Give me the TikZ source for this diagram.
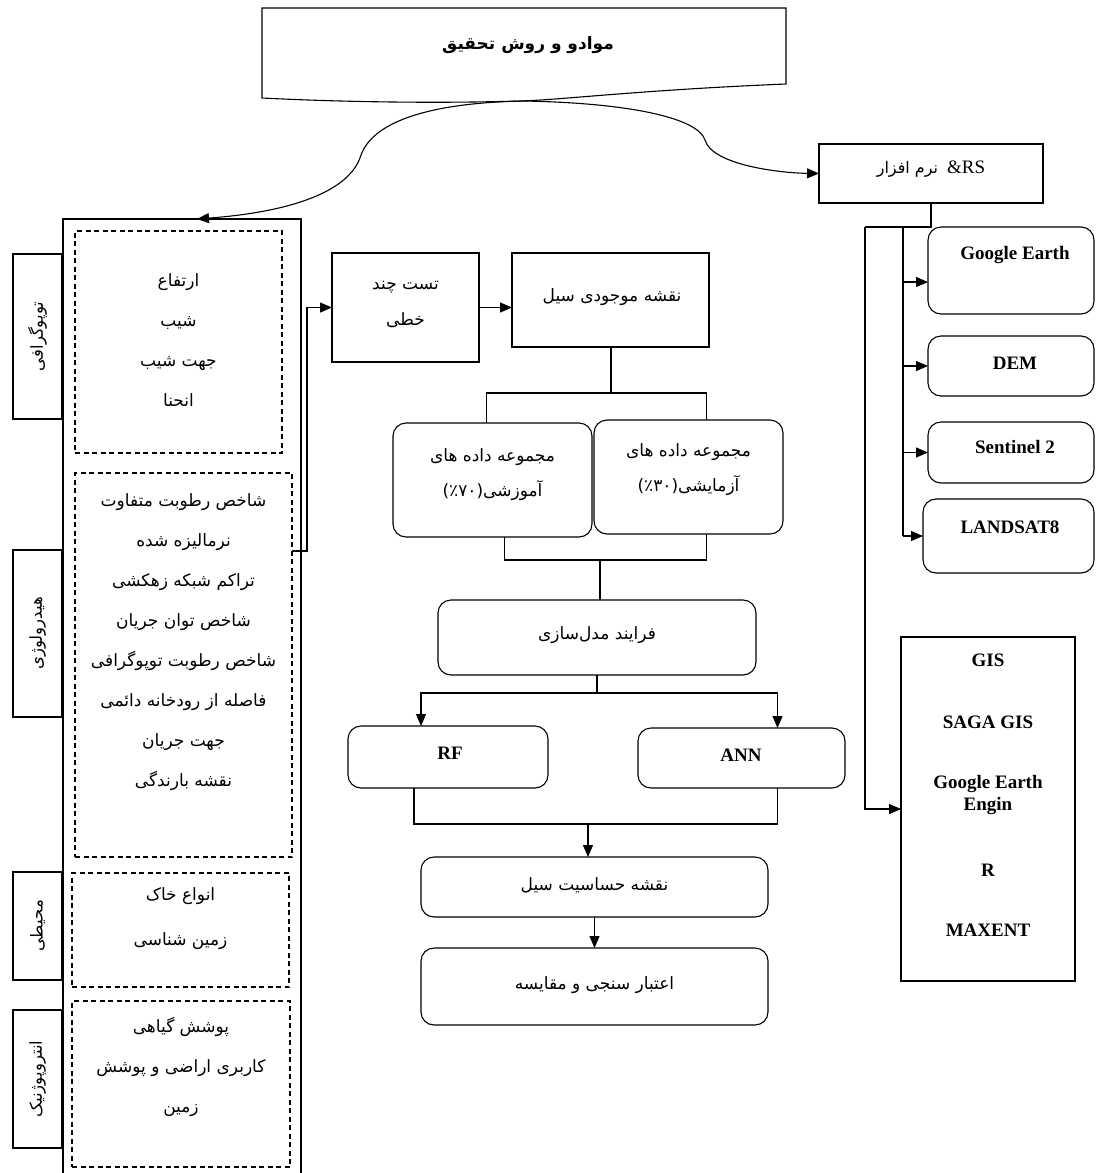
\documentclass[tikz,border=0pt]{standalone}
\usepackage{fontspec}
\setmainfont{Liberation Serif}
\newfontfamily\arabicfont[Script=Arabic]{DejaVu Sans}
\TeXXeTstate=1
\usetikzlibrary{arrows.meta,calc}
\newcommand\fa[1]{{\arabicfont\beginR #1\endR}}
\begin{document}
\begin{tikzpicture}[x=1pt,y=-1pt,
  every node/.style={inner sep=0pt, outer sep=0pt},
  sq/.style={draw, line width=1.1pt},
  rb/.style={draw, line width=1.1pt, rounded corners=13pt},
  dsh/.style={draw, line width=1.1pt, dash pattern=on 5pt off 3.5pt},
  conn/.style={line width=1.1pt},
  arr/.style={conn, -{Triangle[length=12pt,width=10pt]}},
  fat/.style={font=\fontsize{17}{40}\selectfont, align=center},
  fas/.style={font=\fontsize{16.5}{18}\selectfont},
  lat/.style={font=\fontsize{19}{21}\selectfont\bfseries},
]
\useasboundingbox (0,0) rectangle (1096,1173);

% title
\draw[conn] (262,8) -- (786,8) -- (786,84) .. controls (640,90) and (560,100) .. (520,101) .. controls (420,104) and (320,101) .. (262,98) -- cycle;
\coordinate (tb) at (524,101);
\node (title) at (528,45) {\fontsize{17}{20}\selectfont\bfseries\fa{موادو و روش تحقیق}};

% left frame
\node[sq, minimum width=238, minimum height=980] (frame) at (182,709) {};

% side labels
\node[sq, minimum width=49, minimum height=165] (s1) at (37.5,336.5) {};
\node[fas, rotate=90] (s1t) at (s1) {\fa{توپوگرافی}};
\node[sq, minimum width=49, minimum height=167] (s2) at (37.5,633.5) {};
\node[fas, rotate=90] (s2t) at (s2) {\fa{هیدرولوژی}};
\node[sq, minimum width=49, minimum height=108] (s3) at (37.5,926) {};
\node[fas, rotate=90] (s3t) at (s3) {\fa{محیطی}};
\node[sq, minimum width=49, minimum height=138] (s4) at (37.5,1079) {};
\node[fas, rotate=90] (s4t) at (s4) {\fa{انتروپوژنیک}};

% dashed groups
\node[dsh, minimum width=207, minimum height=222] (d1) at (178.5,342) {};
\node[fat] (d1t) at (178.5,340) {\fa{ارتفاع}\\\fa{شیب}\\\fa{جهت شیب}\\\fa{انحنا}};
\node[dsh, minimum width=217, minimum height=384] (d2) at (183.5,665) {};
\node[fat] (d2t) at (183.5,642) {\fa{شاخص رطوبت متفاوت}\\\fa{نرمالیزه شده}\\\fa{تراکم شبکه زهکشی}\\\fa{شاخص توان جریان}\\\fa{شاخص رطوبت توپوگرافی}\\\fa{فاصله از رودخانه دائمی}\\\fa{جهت جریان}\\\fa{نقشه بارندگی}};
\node[dsh, minimum width=217, minimum height=114] (d3) at (180.5,930) {};
\node[fat, font=\fontsize{17}{45}\selectfont] (d3t) at (180.5,919) {\fa{انواع خاک}\\\fa{زمین شناسی}};
\node[dsh, minimum width=218, minimum height=166] (d4) at (181,1084) {};
\node[fat] (d4t) at (181,1067) {\fa{پوشش گیاهی}\\\fa{کاربری اراضی و پوشش}\\\fa{زمین}};

% middle column
\node[sq, minimum width=147, minimum height=109] (test) at (405.5,307.5) {};
\node[fat, font=\fontsize{17}{36}\selectfont] (testt) at (405.5,304) {\fa{تست چند}\\\fa{خطی}};
\node[sq, minimum width=197, minimum height=94] (flood) at (610.5,300) {};
\node[fat] (floodt) at (612,297) {\fa{نقشه موجودی سیل}};
\node[rb, minimum width=199, minimum height=114] (train) at (492.5,480) {};
\node[fat, font=\fontsize{17}{35}\selectfont] (traint) at (492.5,475) {\fa{مجموعه داده های}\\{\arabicfont\mbox{(٪۷۰)}\mbox{آموزشی}}};
\node[rb, minimum width=189, minimum height=114] (tset) at (688.5,477) {};
\node[fat, font=\fontsize{17}{35}\selectfont] (tsett) at (688.5,470) {\fa{مجموعه داده های}\\{\arabicfont\mbox{(٪۳۰)}\mbox{آزمایشی}}};
\node[rb, minimum width=318, minimum height=75] (model) at (597,637.5) {};
\node[fat] (modelt) at (597,635) {\fa{فرایند مدل‌سازی}};
\node[rb, minimum width=200, minimum height=62] (rf) at (448,757) {};
\node[lat] (rft) at (450,753) {RF};
\node[rb, minimum width=207, minimum height=60] (ann) at (741.5,758) {};
\node[lat] (annt) at (741,755) {ANN};
\node[rb, minimum width=347, minimum height=60] (sens) at (594.5,887) {};
\node[fat] (senst) at (594.5,885) {\fa{نقشه حساسیت سیل}};
\node[rb, minimum width=347, minimum height=77] (valid) at (594.5,986.5) {};
\node[fat] (validt) at (594.5,985) {\fa{اعتبار سنجی و مقایسه}};

% right column
\node[sq, minimum width=224, minimum height=59] (rs) at (931,173.5) {};
\node (rst) at (931,169) {{\fontsize{16}{18}\selectfont\fa{نرم افزار}}\hspace{9pt}{\fontsize{19}{21}\selectfont\&RS}};
\node[rb, minimum width=166, minimum height=87] (ge) at (1011,270.5) {};
\node[lat] (get) at (1015,255) {Google Earth};
\node[rb, minimum width=166, minimum height=60] (dem) at (1011,366) {};
\node[lat] (demt) at (1015,363) {DEM};
\node[rb, minimum width=166, minimum height=61] (sent) at (1011,452.5) {};
\node[lat] (sentt) at (1015,447) {Sentinel 2};
\node[rb, minimum width=171, minimum height=74] (land) at (1008.5,536) {};
\node[lat] (landt) at (1010,527) {LANDSAT8};
\node[sq, minimum width=174, minimum height=344] (gis) at (988,809) {};
\node[lat] (g1) at (988,660) {GIS};
\node[lat] (g2) at (988,722) {SAGA GIS};
\node[lat, align=center, font=\fontsize{19}{22}\selectfont\bfseries] (g3) at (988,795) {Google Earth\\Engin};
\node[lat] (g4) at (988,870) {R};
\node[lat] (g5) at (988,930) {MAXENT};

% title connectors
\draw[arr] (tb) .. controls (420,103) and (372,125) .. (361,155) .. controls (350,192) and (290,212) .. ([xshift=134pt]frame.north west);
\draw[arr] (tb) .. controls (630,103) and (698,118) .. (705,140) .. controls (712,165) and (780,173) .. (rs.west);

% left to test
\coordinate (h1) at (307,551);
\draw[arr] (d2.east |- h1) -- (h1) |- (test.west);
\draw[arr] (test.east) -- (test.east -| flood.west);

% flood to datasets
\coordinate (j1) at (611,393);
\draw[conn] (j1 |- flood.south) -- (j1);
\draw[conn] ([xshift=-6pt]train.north) |- (j1) -| ([xshift=18pt]tset.north);
% datasets to model
\coordinate (j2) at (600,560);
\draw[conn] ([xshift=12pt]train.south) |- (j2) -| ([xshift=18pt]tset.south);
\draw[conn] (j2) -- (j2 |- model.north);
% model to RF / ANN
\coordinate (j3) at (597,693);
\draw[conn] (model.south) -- (j3);
\draw[arr] (j3) -| ([xshift=-27pt]rf.north);
\draw[arr] (j3) -| ([xshift=36pt]ann.north);
% RF / ANN to sensitivity
\coordinate (j4) at (588,824);
\draw[conn] ([xshift=-34pt]rf.south) |- (j4) -| ([xshift=36pt]ann.south);
\draw[arr] (j4) -- (j4 |- sens.north);
\draw[arr] (sens.south) -- (valid.north);

% RS tree
\coordinate (r1) at (931,227);
\coordinate (rl) at (865,227);
\coordinate (rm) at (903,227);
\draw[conn] (rs.south) -- (r1) -- (rl);
\draw[arr] (rl) |- (gis.west);
\draw[conn] (rm) -- (rm |- land.west);
\draw[arr] (rm |- 0,282) -- (ge.west |- 0,282);
\draw[arr] (rm |- dem.west) -- (dem.west);
\draw[arr] (rm |- sent.west) -- (sent.west);
\draw[arr] (rm |- land.west) -- (land.west);
\end{tikzpicture}
\end{document}
